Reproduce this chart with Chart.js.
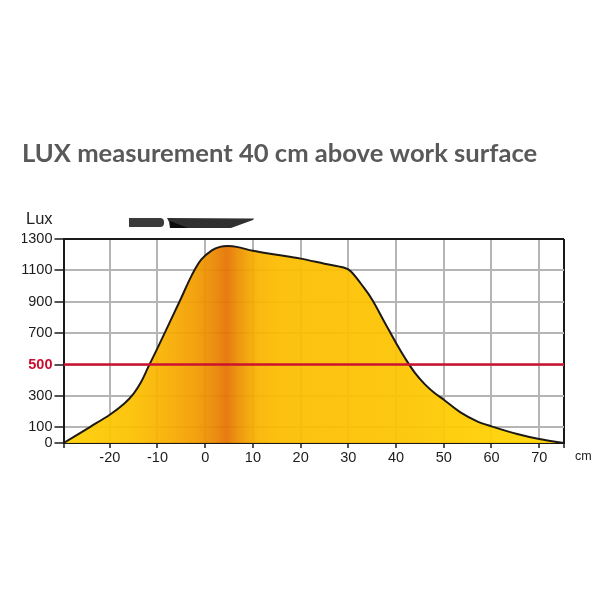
<!DOCTYPE html>
<html>
<head>
<meta charset="utf-8">
<title>LUX measurement</title>
<script src="https://cdn.jsdelivr.net/npm/chart.js@4/dist/chart.umd.min.js"></script>
<style>
  html, body { margin: 0; padding: 0; background: #fff; }
  canvas { display: block; }
</style>
</head>
<body>
<canvas id="luxChart" width="610" height="610"></canvas>
<script>
const titleText = 'LUX measurement 40 cm above work surface';

const curveCm = [-29.7, -24, -20, -17, -15, -13.5, -12, -10, -5.2, -2.8, -0.8, 1.4, 3.1, 4.7, 6.6, 10, 15, 20, 25, 29, 30.5, 33.3, 35, 37.5, 40, 42, 44, 46, 48, 50, 53.5, 57, 60, 65.4, 70, 75.2];
const curveLux = [0, 105, 180, 250, 315, 385, 480, 605, 913, 1070, 1170, 1228, 1250, 1255, 1250, 1225, 1200, 1175, 1143, 1118, 1095, 988, 913, 775, 637, 535, 445, 375, 320, 276, 195, 138, 106, 57, 25, 0];

const xMin = -29.7;
const xMax = 75.2;
const xTicks = [-20, -10, 0, 10, 20, 30, 40, 50, 60, 70];
const yTicks = [0, 100, 300, 500, 700, 900, 1100, 1300];
const limitLux = 500;

const tickFont = '"Liberation Sans", Arial, sans-serif';

// horizontal colour band under the curve, dark in the middle of the lamp
function fillGradient(chart) {
  const area = chart.chartArea;
  if (!area) return '#fcc200';
  const x = chart.scales.x;
  const g = chart.ctx.createLinearGradient(area.left, 0, area.right, 0);
  const stops = [
    [-29.7, '#fdd000ee'], [-15, '#fcc000ee'], [-8, '#f8ae00ee'], [-2, '#f29c00ee'],
    [2, '#ea8600ee'], [4.5, '#e57200ee'], [7, '#ed9000ee'], [11, '#f9b400ee'],
    [16, '#fcbd00ee'], [40, '#fdc400ee'], [75.2, '#ffd800ee']
  ];
  stops.forEach((s) => {
    g.addColorStop((x.getPixelForValue(s[0]) - area.left) / area.width, s[1]);
  });
  return g;
}

// axis captions and the small lamp profile above the plot
const extras = {
  id: 'extras',
  afterDraw(chart) {
    const c = chart.ctx;
    c.save();
    c.fillStyle = '#222';
    c.textBaseline = 'middle';
    c.textAlign = 'left';
    c.font = '16.5px ' + tickFont;
    c.fillText('Lux', 26, 219);
    c.font = '12.5px ' + tickFont;
    c.fillText('cm', 575, 457);

    c.fillStyle = '#3b3b3b';
    c.beginPath();
    c.roundRect(129, 218, 35, 9, [0, 4, 4, 0]);
    c.fill();

    c.fillStyle = '#303030';
    c.beginPath();
    c.moveTo(167, 218);
    c.lineTo(254, 218.5);
    c.lineTo(253, 220);
    c.lineTo(231, 228);
    c.lineTo(170, 228);
    c.lineTo(169, 222);
    c.closePath();
    c.fill();

    c.fillStyle = '#0c0c0c';
    c.beginPath();
    c.moveTo(170, 221);
    c.lineTo(188, 228);
    c.lineTo(170, 228);
    c.closePath();
    c.fill();
    c.restore();
  }
};

new Chart(document.getElementById('luxChart'), {
  type: 'line',
  data: {
    datasets: [
      {
        label: 'limit',
        data: [{ x: xMin, y: limitLux }, { x: xMax, y: limitLux }],
        borderColor: '#cc1230',
        borderWidth: 2.5,
        pointRadius: 0,
        fill: false
      },
      {
        label: 'Lux',
        data: curveCm.map((cm, i) => ({ x: cm, y: curveLux[i] })),
        borderColor: '#1d1a16',
        borderWidth: 2,
        pointRadius: 0,
        tension: 0.35,
        fill: 'origin',
        backgroundColor: (ctx) => fillGradient(ctx.chart)
      }
    ]
  },
  options: {
    responsive: false,
    animation: false,
    layout: { padding: { left: 22, right: 46, top: 0, bottom: 0 } },
    plugins: {
      legend: { display: false },
      tooltip: { enabled: false },
      title: {
        display: true,
        text: titleText,
        align: 'start',
        color: '#595959',
        font: { family: 'Lato, "Open Sans", sans-serif', size: 25.6, weight: 'bold', lineHeight: 1.2 },
        padding: { top: 138, bottom: 70.3 }
      }
    },
    scales: {
      x: {
        type: 'linear',
        min: xMin,
        max: xMax,
        afterBuildTicks(axis) {
          axis.ticks = [xMin].concat(xTicks, [xMax]).map((v) => ({ value: v }));
        },
        afterFit(axis) { axis.height = 167; },
        border: { color: '#1a1a1a', width: 2 },
        grid: {
          color: (ctx) => (ctx.tick && xTicks.includes(ctx.tick.value) ? '#b5b5b5' : '#1a1a1a'),
          lineWidth: 2,
          tickColor: '#1a1a1a',
          tickWidth: 1.5,
          tickLength: 5
        },
        ticks: {
          autoSkip: false,
          maxRotation: 0,
          padding: 1,
          color: '#1c1c1c',
          font: { family: tickFont, size: 14.5 },
          callback: (v) => (xTicks.includes(v) ? String(v) : '')
        }
      },
      y: {
        min: 0,
        max: 1300,
        afterBuildTicks(axis) {
          axis.ticks = yTicks.map((v) => ({ value: v }));
        },
        afterFit(axis) { axis.width = 41.5; },
        border: { color: '#1a1a1a', width: 2 },
        grid: {
          color: (ctx) => (ctx.tick && ctx.tick.value === 1300 ? '#1a1a1a' : '#b5b5b5'),
          lineWidth: 2,
          tickColor: '#1a1a1a',
          tickWidth: 1.5,
          tickLength: 9
        },
        ticks: {
          autoSkip: false,
          padding: 2,
          color: (ctx) => (ctx.tick.value === limitLux ? '#c8102e' : '#1c1c1c'),
          callback: (v) => String(v),
          font: (ctx) => ({
            family: tickFont,
            size: 14.5,
            weight: ctx.tick && ctx.tick.value === limitLux ? 'bold' : 'normal'
          })
        }
      }
    }
  },
  plugins: [extras]
});
</script>
</body>
</html>
